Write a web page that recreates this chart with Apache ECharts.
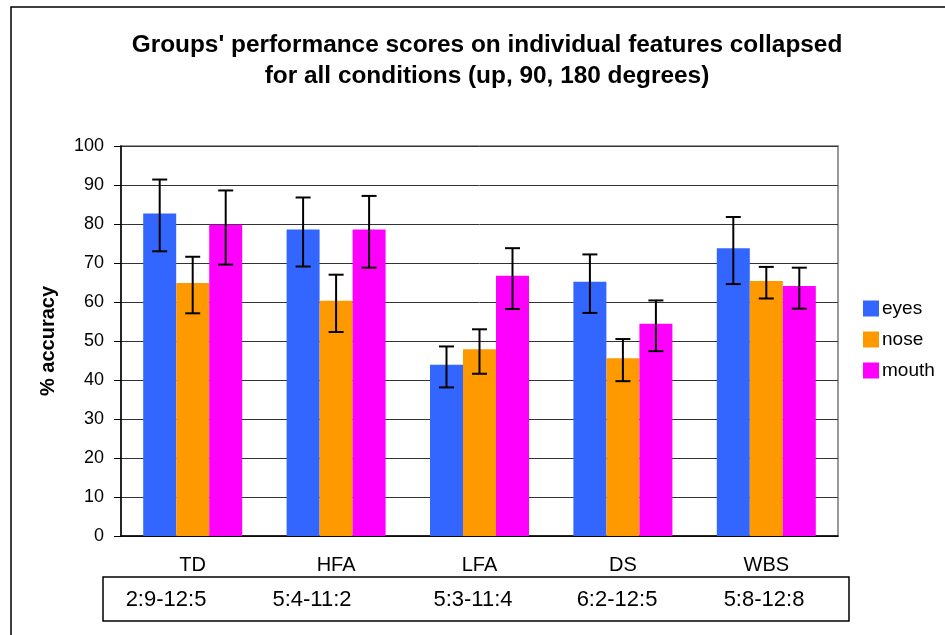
<!DOCTYPE html>
<html lang="en">
<head>
    <meta charset="UTF-8">
    <title>Groups' performance scores</title>
    <style>
        body{ margin:0; background:#fff; }
        #chart{ width:945px; height:635px; }
    </style>
</head>
<body>
    <div id="chart"></div>

    <script src="https://cdn.jsdelivr.net/npm/echarts@6/dist/echarts.min.js"></script>
    <script>
        // groups and age ranges (table under the axis)
        let groups = ['TD', 'HFA', 'LFA', 'DS', 'WBS']
        let ageRanges = ['2:9-12:5', '5:4-11:2', '5:3-11:4', '6:2-12:5', '5:8-12:8']
        let features = ['eyes', 'nose', 'mouth']

        // mean % accuracy per group
        let eyes  = [82.7, 78.6, 43.9, 65.2, 73.8]
        let nose  = [64.9, 60.3, 47.9, 45.6, 65.4]
        let mouth = [79.8, 78.6, 66.7, 54.4, 64.1]

        // error bar ends (low / high)
        let eyesLow   = [73.0, 69.1, 38.1, 57.2, 64.6]
        let eyesHigh  = [91.4, 86.8, 48.6, 72.2, 81.8]
        let noseLow   = [57.1, 52.3, 41.6, 39.7, 60.9]
        let noseHigh  = [71.6, 67.0, 53.0, 50.5, 69.0]
        let mouthLow  = [69.6, 68.8, 58.2, 47.4, 58.3]
        let mouthHigh = [88.6, 87.2, 73.8, 60.4, 68.8]

        let yTicks = [0, 10, 20, 30, 40, 50, 60, 70, 80, 90, 100]

        let colors = ['#3366FF', '#FF9900', '#FF00FF']
        let font = '"Liberation Sans", Arial, sans-serif'
        let barW = 33
        let ageX = [166, 312, 473, 617, 764]     // where the age text sits in the table

        let chart = echarts.init(document.getElementById('chart'))

        function errSeries(low, high, idx){
            let offset = (idx - 1) * barW
            return {
                type:'custom',
                name:features[idx] + ' err',
                z:5,
                silent:true,
                encode:{ x:0, y:[1, 2] },
                data:low.map((v, i) => [i, v, high[i]]),
                renderItem:function(params, api){
                    let top = api.coord([api.value(0), api.value(2)])
                    let bot = api.coord([api.value(0), api.value(1)])
                    let x = top[0] + offset
                    let cap = 7.5
                    let st = { stroke:'#000', lineWidth:2 }
                    return {
                        type:'group',
                        children:[
                            { type:'line', shape:{ x1:x, y1:top[1], x2:x, y2:bot[1] }, style:st },
                            { type:'line', shape:{ x1:x - cap, y1:top[1], x2:x + cap, y2:top[1] }, style:st },
                            { type:'line', shape:{ x1:x - cap, y1:bot[1], x2:x + cap, y2:bot[1] }, style:st }
                        ]
                    }
                }
            }
        }

        let barData = [eyes, nose, mouth]
        let bars = barData.map((d, i) => ({
            type:'bar',
            name:features[i],
            data:d,
            barWidth:barW,
            barGap:'0%',
            itemStyle:{ color:colors[i] }
        }))

        let option = {
            animation:false,
            color:colors,
            legend:{
                orient:'vertical',
                left:863,
                top:299,
                padding:0,
                itemWidth:16,
                itemHeight:16,
                itemGap:12,
                icon:'rect',
                data:features,
                textStyle:{ fontFamily:font, fontSize:19, lineHeight:16, color:'#000', padding:[0, 0, 0, -2] }
            },
            grid:{
                left:121, right:107, top:146, bottom:99,
                show:true, borderColor:'#999', borderWidth:2
            },
            xAxis:{
                type:'category',
                data:groups,
                axisLine:{ lineStyle:{ color:'#000', width:1.5 } },
                axisTick:{ length:6, lineStyle:{ color:'#000' } },
                axisLabel:{ fontFamily:font, fontSize:20, color:'#000', margin:19 }
            },
            yAxis:{
                type:'value',
                min:yTicks[0],
                max:yTicks[yTicks.length - 1],
                interval:10,
                name:'% accuracy',
                nameLocation:'middle',
                nameGap:63,
                nameTextStyle:{ fontFamily:font, fontSize:20, fontWeight:'bold', color:'#000' },
                axisLine:{ show:true, lineStyle:{ color:'#000', width:1.5 } },
                axisTick:{ show:true, length:7, lineStyle:{ color:'#000' } },
                axisLabel:{ fontFamily:font, fontSize:18, color:'#000', margin:17 },
                splitLine:{ lineStyle:{ color:'#333', width:1 } }
            },
            graphic:[
                {   // outer frame
                    type:'rect', silent:true,
                    shape:{ x:11, y:7, width:960, height:660 },
                    style:{ fill:null, stroke:'#000', lineWidth:1.5 }
                },
                {   // table box
                    type:'rect', silent:true,
                    shape:{ x:103, y:577, width:746, height:44 },
                    style:{ fill:null, stroke:'#000', lineWidth:1.5 }
                },
                {   // title
                    type:'text', x:487, y:61, silent:true,
                    style:{
                        text:"Groups' performance scores on individual features collapsed\nfor all conditions (up, 90, 180 degrees)",
                        fontFamily:font, fontSize:24.4, fontWeight:'bold', fill:'#000',
                        lineHeight:31, align:'center', verticalAlign:'middle'
                    }
                }
            ].concat(ageRanges.map((t, i) => ({
                type:'text',
                x:ageX[i],
                y:600,
                silent:true,
                style:{ text:t, fontFamily:font, fontSize:22, fill:'#000', align:'center', verticalAlign:'middle' }
            }))),
            series:bars.concat([
                errSeries(eyesLow, eyesHigh, 0),
                errSeries(noseLow, noseHigh, 1),
                errSeries(mouthLow, mouthHigh, 2)
            ])
        }
        chart.setOption(option)
    </script>
</body>
</html>
